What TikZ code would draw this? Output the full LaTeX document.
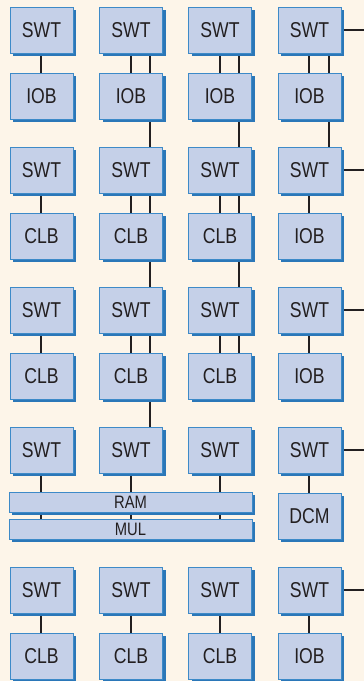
\documentclass[tikz,border=0pt]{standalone}
\usepackage{fontspec}
\setmainfont{Liberation Sans}[FakeStretch=0.82]
\usetikzlibrary{shadows,backgrounds}
\definecolor{bgcol}{HTML}{FDF5E9}
\definecolor{boxfill}{HTML}{C5D0E8}
\definecolor{boxline}{HTML}{3D8AC8}
\definecolor{shadcol}{HTML}{2B77B8}
\definecolor{wire}{HTML}{231F20}
\tikzset{
  blk/.style={draw=boxline, line width=1pt, fill=boxfill, inner sep=0pt,
    minimum width=63pt, minimum height=46pt, text=wire,
    font=\fontsize{21.5}{22}\selectfont,
    general shadow={fill=shadcol, shadow xshift=3pt, shadow yshift=-3pt}},
  bar/.style={blk, minimum width=243pt, minimum height=20pt,
    font=\fontsize{18}{18}\selectfont},
  wireline/.style={draw=wire, line width=2pt}
}
\begin{document}
\begin{tikzpicture}[x=1pt,y=-1pt]
\useasboundingbox (0,0) rectangle (364,681);
% columns
\foreach \c/\x in {1/41.5,2/131,3/220,4/309.5}{
  \node[blk] (s1\c) at (\x,30) {SWT};
  \node[blk] (s3\c) at (\x,170) {SWT};
  \node[blk] (s5\c) at (\x,310) {SWT};
  \node[blk] (s7\c) at (\x,450) {SWT};
  \node[blk] (s9\c) at (\x,590) {SWT};
}
\foreach \c/\x in {1/41.5,2/131,3/220,4/309.5}{
  \node[blk] (r2\c) at (\x,96) {IOB};
}
\foreach \c/\x in {1/41.5,2/131,3/220}{
  \node[blk] (r4\c) at (\x,236) {CLB};
  \node[blk] (r6\c) at (\x,376) {CLB};
  \node[blk] (r10\c) at (\x,656) {CLB};
}
\node[blk] (r44) at (309.5,236) {IOB};
\node[blk] (r64) at (309.5,376) {IOB};
\node[blk] (r104) at (309.5,656) {IOB};
\node[blk] (dcm) at (309.5,516) {DCM};
\node[bar] (ram) at (130.5,502) {RAM};
\node[bar] (mul) at (130.5,529) {MUL};
% right side stubs
\foreach \r/\y in {1/30,3/170,5/310,7/450,9/590}{
  \coordinate (e\r) at (364,\y);
}
\begin{pgfonlayer}{background}
  \fill[bgcol] (0,0) rectangle (364,681);
  % centre lines
  \foreach \a/\b in {s11/r21,s31/r41,s51/r61,s71/mul,s91/r101,
                     s12/r22,s32/r42,s52/r62,s72/mul,s92/r102,
                     s13/r23,s33/r43,s53/r63,s73/mul,s93/r103,
                     s14/r24,s34/r44,s54/r64,s74/dcm,s94/r104}{
    \draw[wireline] ([xshift=-0.5pt]\a.south) -- ([xshift=-0.5pt]\a.south |- \b.north);
  }
  % offset lines
  \foreach \a/\b in {s12/r22,r22/s32,s32/r42,r42/s52,s52/r62,r62/s72,
                     s13/r23,r23/s33,s33/r43,r43/s53,s53/r63,
                     s14/r24,r24/s34}{
    \draw[wireline] ([xshift=19pt]\a.south) -- ([xshift=19pt]\b.north);
  }
  \foreach \r in {1,3,5,7,9}{
    \draw[wireline] (s\r4.east) -- (e\r);
  }
\end{pgfonlayer}
\end{tikzpicture}
\end{document}
